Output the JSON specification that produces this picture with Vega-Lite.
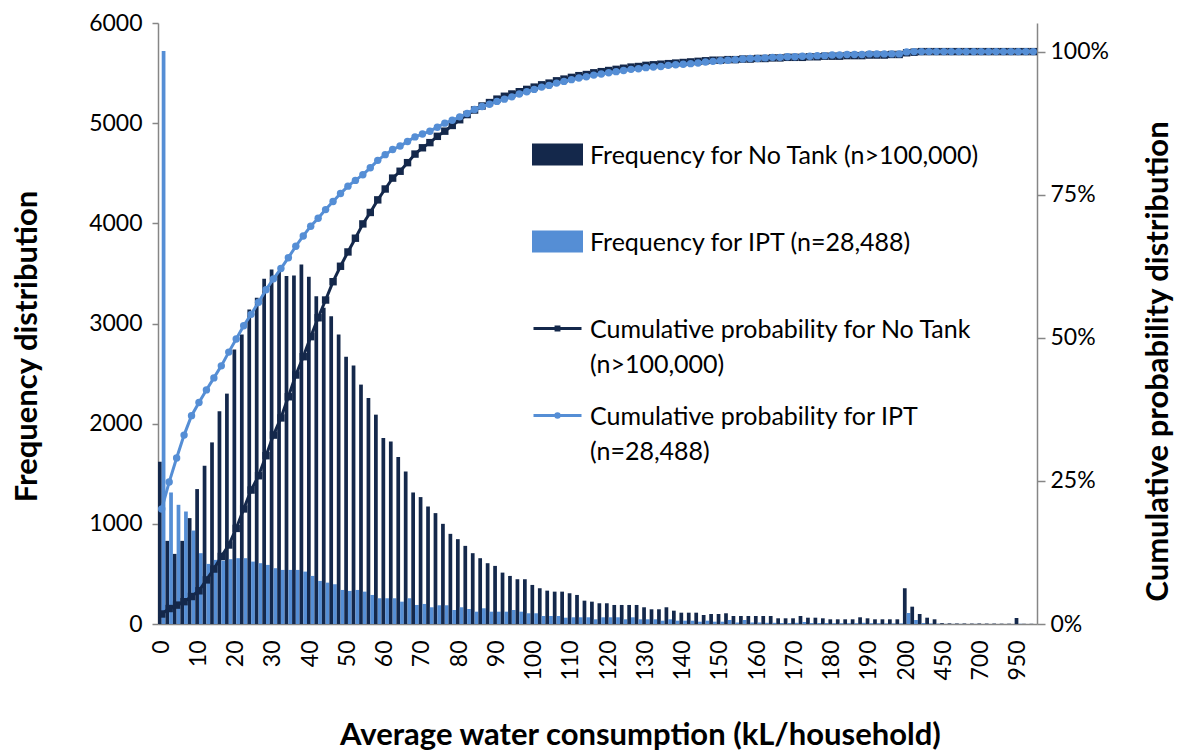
{
  "$schema": "https://vega.github.io/schema/vega-lite/v6.json",
  "width": 879,
  "height": 601,
  "autosize": {"type": "none"},
  "padding": {"left": 158, "top": 23, "right": 141, "bottom": 129},
  "background": "white",
  "config": {
    "view": {"stroke": null},
    "font": "Lato",
    "axis": {"grid": false, "domainColor": "#868686", "tickColor": "#868686", "labelColor": "#000000", "titleColor": "#000000", "labelFont": "Lato", "titleFont": "Lato", "labelFontSize": 23, "titleFontSize": 31, "titleFontWeight": "bold", "domainWidth": 1.5, "tickWidth": 1.5}
  },
  "data": {"values": [
    {"b":"0","nt":1620,"ipt":5720,"cnt":0.0175,"cipt":0.201},
    {"b":"2","nt":830,"ipt":1313,"cnt":0.027,"cipt":0.248},
    {"b":"4","nt":700,"ipt":1190,"cnt":0.033,"cipt":0.290},
    {"b":"6","nt":830,"ipt":1123,"cnt":0.039,"cipt":0.330},
    {"b":"8","nt":1057,"ipt":933,"cnt":0.048,"cipt":0.364},
    {"b":"10","nt":1347,"ipt":707,"cnt":0.058,"cipt":0.387},
    {"b":"12","nt":1580,"ipt":600,"cnt":0.077,"cipt":0.409},
    {"b":"14","nt":1813,"ipt":640,"cnt":0.096,"cipt":0.430},
    {"b":"16","nt":2123,"ipt":633,"cnt":0.118,"cipt":0.451},
    {"b":"18","nt":2300,"ipt":647,"cnt":0.138,"cipt":0.475},
    {"b":"20","nt":2740,"ipt":657,"cnt":0.167,"cipt":0.498},
    {"b":"22","nt":2890,"ipt":657,"cnt":0.201,"cipt":0.521},
    {"b":"24","nt":3140,"ipt":623,"cnt":0.234,"cipt":0.541},
    {"b":"26","nt":3257,"ipt":607,"cnt":0.259,"cipt":0.562},
    {"b":"28","nt":3447,"ipt":590,"cnt":0.294,"cipt":0.584},
    {"b":"30","nt":3540,"ipt":557,"cnt":0.330,"cipt":0.603},
    {"b":"32","nt":3513,"ipt":540,"cnt":0.360,"cipt":0.621},
    {"b":"34","nt":3473,"ipt":540,"cnt":0.397,"cipt":0.640},
    {"b":"36","nt":3480,"ipt":540,"cnt":0.435,"cipt":0.660},
    {"b":"38","nt":3590,"ipt":523,"cnt":0.467,"cipt":0.678},
    {"b":"40","nt":3467,"ipt":480,"cnt":0.502,"cipt":0.695},
    {"b":"42","nt":3273,"ipt":430,"cnt":0.535,"cipt":0.709},
    {"b":"44","nt":3157,"ipt":413,"cnt":0.566,"cipt":0.724},
    {"b":"46","nt":3073,"ipt":397,"cnt":0.598,"cipt":0.738},
    {"b":"48","nt":2890,"ipt":340,"cnt":0.625,"cipt":0.752},
    {"b":"50","nt":2667,"ipt":330,"cnt":0.650,"cipt":0.765},
    {"b":"52","nt":2580,"ipt":340,"cnt":0.674,"cipt":0.775},
    {"b":"54","nt":2390,"ipt":323,"cnt":0.699,"cipt":0.785},
    {"b":"56","nt":2257,"ipt":290,"cnt":0.719,"cipt":0.797},
    {"b":"58","nt":2090,"ipt":257,"cnt":0.741,"cipt":0.810},
    {"b":"60","nt":1857,"ipt":257,"cnt":0.760,"cipt":0.820},
    {"b":"62","nt":1823,"ipt":257,"cnt":0.779,"cipt":0.829},
    {"b":"64","nt":1667,"ipt":223,"cnt":0.791,"cipt":0.835},
    {"b":"66","nt":1523,"ipt":257,"cnt":0.806,"cipt":0.843},
    {"b":"68","nt":1313,"ipt":190,"cnt":0.821,"cipt":0.851},
    {"b":"70","nt":1267,"ipt":200,"cnt":0.832,"cipt":0.856},
    {"b":"72","nt":1173,"ipt":167,"cnt":0.841,"cipt":0.861},
    {"b":"74","nt":1107,"ipt":187,"cnt":0.852,"cipt":0.868},
    {"b":"76","nt":1000,"ipt":187,"cnt":0.861,"cipt":0.875},
    {"b":"78","nt":900,"ipt":140,"cnt":0.871,"cipt":0.880},
    {"b":"80","nt":847,"ipt":167,"cnt":0.881,"cipt":0.886},
    {"b":"82","nt":780,"ipt":150,"cnt":0.890,"cipt":0.892},
    {"b":"84","nt":707,"ipt":123,"cnt":0.898,"cipt":0.899},
    {"b":"86","nt":657,"ipt":157,"cnt":0.905,"cipt":0.904},
    {"b":"88","nt":607,"ipt":123,"cnt":0.911,"cipt":0.908},
    {"b":"90","nt":580,"ipt":123,"cnt":0.917,"cipt":0.913},
    {"b":"92","nt":513,"ipt":123,"cnt":0.922,"cipt":0.917},
    {"b":"94","nt":480,"ipt":140,"cnt":0.926,"cipt":0.921},
    {"b":"96","nt":447,"ipt":123,"cnt":0.930,"cipt":0.926},
    {"b":"98","nt":447,"ipt":107,"cnt":0.934,"cipt":0.930},
    {"b":"100","nt":390,"ipt":107,"cnt":0.938,"cipt":0.934},
    {"b":"102","nt":357,"ipt":80,"cnt":0.942,"cipt":0.938},
    {"b":"104","nt":333,"ipt":80,"cnt":0.945,"cipt":0.941},
    {"b":"106","nt":323,"ipt":80,"cnt":0.949,"cipt":0.945},
    {"b":"108","nt":323,"ipt":63,"cnt":0.952,"cipt":0.948},
    {"b":"110","nt":307,"ipt":67,"cnt":0.955,"cipt":0.951},
    {"b":"112","nt":290,"ipt":67,"cnt":0.958,"cipt":0.954},
    {"b":"114","nt":233,"ipt":67,"cnt":0.960,"cipt":0.956},
    {"b":"116","nt":223,"ipt":47,"cnt":0.963,"cipt":0.959},
    {"b":"118","nt":207,"ipt":67,"cnt":0.965,"cipt":0.961},
    {"b":"120","nt":207,"ipt":67,"cnt":0.967,"cipt":0.963},
    {"b":"122","nt":190,"ipt":67,"cnt":0.969,"cipt":0.965},
    {"b":"124","nt":190,"ipt":47,"cnt":0.971,"cipt":0.967},
    {"b":"126","nt":190,"ipt":67,"cnt":0.973,"cipt":0.969},
    {"b":"128","nt":190,"ipt":47,"cnt":0.974,"cipt":0.970},
    {"b":"130","nt":167,"ipt":47,"cnt":0.976,"cipt":0.972},
    {"b":"132","nt":147,"ipt":47,"cnt":0.977,"cipt":0.973},
    {"b":"134","nt":147,"ipt":33,"cnt":0.978,"cipt":0.974},
    {"b":"136","nt":167,"ipt":47,"cnt":0.979,"cipt":0.976},
    {"b":"138","nt":133,"ipt":33,"cnt":0.980,"cipt":0.977},
    {"b":"140","nt":113,"ipt":33,"cnt":0.981,"cipt":0.978},
    {"b":"142","nt":113,"ipt":33,"cnt":0.982,"cipt":0.979},
    {"b":"144","nt":113,"ipt":23,"cnt":0.983,"cipt":0.980},
    {"b":"146","nt":90,"ipt":33,"cnt":0.984,"cipt":0.982},
    {"b":"148","nt":100,"ipt":23,"cnt":0.985,"cipt":0.983},
    {"b":"150","nt":100,"ipt":23,"cnt":0.985,"cipt":0.984},
    {"b":"152","nt":107,"ipt":40,"cnt":0.986,"cipt":0.985},
    {"b":"154","nt":80,"ipt":15,"cnt":0.986,"cipt":0.986},
    {"b":"156","nt":80,"ipt":40,"cnt":0.987,"cipt":0.987},
    {"b":"158","nt":80,"ipt":15,"cnt":0.987,"cipt":0.988},
    {"b":"160","nt":80,"ipt":15,"cnt":0.988,"cipt":0.988},
    {"b":"162","nt":80,"ipt":12,"cnt":0.988,"cipt":0.989},
    {"b":"164","nt":80,"ipt":12,"cnt":0.989,"cipt":0.990},
    {"b":"166","nt":57,"ipt":10,"cnt":0.989,"cipt":0.990},
    {"b":"168","nt":57,"ipt":10,"cnt":0.990,"cipt":0.991},
    {"b":"170","nt":57,"ipt":12,"cnt":0.990,"cipt":0.991},
    {"b":"172","nt":80,"ipt":20,"cnt":0.990,"cipt":0.992},
    {"b":"174","nt":63,"ipt":10,"cnt":0.991,"cipt":0.992},
    {"b":"176","nt":63,"ipt":10,"cnt":0.991,"cipt":0.993},
    {"b":"178","nt":57,"ipt":10,"cnt":0.992,"cipt":0.993},
    {"b":"180","nt":47,"ipt":8,"cnt":0.992,"cipt":0.994},
    {"b":"182","nt":47,"ipt":8,"cnt":0.992,"cipt":0.994},
    {"b":"184","nt":47,"ipt":8,"cnt":0.993,"cipt":0.995},
    {"b":"186","nt":47,"ipt":8,"cnt":0.993,"cipt":0.995},
    {"b":"188","nt":67,"ipt":12,"cnt":0.993,"cipt":0.995},
    {"b":"190","nt":57,"ipt":8,"cnt":0.994,"cipt":0.996},
    {"b":"192","nt":47,"ipt":8,"cnt":0.994,"cipt":0.996},
    {"b":"194","nt":47,"ipt":6,"cnt":0.994,"cipt":0.996},
    {"b":"196","nt":47,"ipt":6,"cnt":0.995,"cipt":0.996},
    {"b":"198","nt":47,"ipt":6,"cnt":0.995,"cipt":0.996},
    {"b":"200","nt":357,"ipt":110,"cnt":0.998,"cipt":0.9995},
    {"b":"250","nt":173,"ipt":40,"cnt":0.999,"cipt":1.0},
    {"b":"300","nt":100,"ipt":10,"cnt":1.0,"cipt":1.0},
    {"b":"350","nt":63,"ipt":5,"cnt":1.0,"cipt":1.0},
    {"b":"400","nt":47,"ipt":4,"cnt":1.0,"cipt":1.0},
    {"b":"450","nt":8,"ipt":1,"cnt":1.0,"cipt":1.0},
    {"b":"500","nt":6,"ipt":1,"cnt":1.0,"cipt":1.0},
    {"b":"550","nt":5,"ipt":1,"cnt":1.0,"cipt":1.0},
    {"b":"600","nt":5,"ipt":0,"cnt":1.0,"cipt":1.0},
    {"b":"650","nt":4,"ipt":1,"cnt":1.0,"cipt":1.0},
    {"b":"700","nt":5,"ipt":0,"cnt":1.0,"cipt":1.0},
    {"b":"750","nt":4,"ipt":0,"cnt":1.0,"cipt":1.0},
    {"b":"800","nt":4,"ipt":0,"cnt":1.0,"cipt":1.0},
    {"b":"850","nt":3,"ipt":0,"cnt":1.0,"cipt":1.0},
    {"b":"900","nt":3,"ipt":0,"cnt":1.0,"cipt":1.0},
    {"b":"950","nt":60,"ipt":2,"cnt":1.0,"cipt":1.0},
    {"b":"1000","nt":2,"ipt":0,"cnt":1.0,"cipt":1.0},
    {"b":"1050","nt":2,"ipt":0,"cnt":1.0,"cipt":1.0}
  ]},
  "encoding": {
    "x": {
      "field": "b", "type": "ordinal", "sort": null,
      "scale": {"paddingInner": 0, "paddingOuter": 0},
      "axis": {
        "values": ["0","10","20","30","40","50","60","70","80","90","100","110","120","130","140","150","160","170","180","190","200","450","700","950"],
        "labelAngle": -90, "labelAlign": "right", "labelBaseline": "middle",
        "ticks": false, "labelPadding": 16,
        "title": "Average water consumption (kL/household)",
        "titlePadding": 40, "titleX": 482, "titleAnchor": "middle"
      }
    }
  },
  "layer": [
    {
      "transform": [{"fold": ["nt", "ipt"], "as": ["s", "v"]}],
      "mark": {"type": "bar"},
      "encoding": {
        "xOffset": {"field": "s", "type": "nominal", "scale": {"domain": ["nt", "ipt"], "paddingInner": 0, "paddingOuter": 0}},
        "y": {
          "field": "v", "type": "quantitative",
          "scale": {"domain": [0, 6000], "nice": false},
          "axis": {"values": [0,1000,2000,3000,4000,5000,6000], "format": "d", "tickSize": 6, "labelPadding": 10, "title": "Frequency distribution", "titlePadding": 45, "titleY": 323, "titleAnchor": "middle"}
        },
        "color": {
          "field": "s", "type": "nominal",
          "scale": {"domain": ["nt", "ipt", "cnt", "cipt"], "range": ["#14284B", "#558ED5", "#14284B", "#558ED5"]},
          "legend": {
            "orient": "none", "legendX": 374, "legendY": 106, "direction": "vertical", "title": null,
            "labelFont": "Lato", "labelFontSize": 25, "labelColor": "#000000", "labelLimit": 600,
            "labelOffset": 7, "rowPadding": 12, "symbolSize": 2304, "labelBaseline": "alphabetic",
            "labelExpr": "datum.value == 'nt' ? ['Frequency for No Tank (n>100,000)', ''] : datum.value == 'ipt' ? ['Frequency for IPT (n=28,488)', ''] : datum.value == 'cnt' ? ['Cumulative probability for No Tank', '(n>100,000)'] : ['Cumulative probability for IPT', '(n=28,488)']",
            "encode": {
              "symbols": {"update": {
                "shape": {"signal": "datum.value == 'nt' || datum.value == 'ipt' ? 'M-1,-0.4H1V0.4H-1Z' : datum.value == 'cnt' ? 'M-1,0H1M-0.06,-0.06H0.06V0.06H-0.06Z' : 'M-1,0H1M0.07,0A0.07,0.07,0,1,1,-0.07,0A0.07,0.07,0,1,1,0.07,0Z'"},
                "fill": {"signal": "datum.value == 'nt' || datum.value == 'cnt' ? '#14284B' : '#558ED5'"},
                "stroke": {"signal": "datum.value == 'nt' || datum.value == 'ipt' ? 'transparent' : datum.value == 'cnt' ? '#14284B' : '#558ED5'"},
                "strokeWidth": {"value": 3},
                "opacity": {"value": 1},
                "size": {"value": 2304}
              }},
              "labels": {"update": {"dy": {"value": 9}, "lineHeight": {"value": 35}}}
            }
          }
        }
      }
    },
    {
      "layer": [
        {
          "mark": {"type": "line", "strokeWidth": 3, "point": {"shape": "square", "size": 55, "filled": true}},
          "encoding": {
            "y": {
              "field": "cnt", "type": "quantitative",
              "scale": {"domain": [0, 1.05], "nice": false},
              "axis": {"orient": "right", "values": [0, 0.25, 0.5, 0.75, 1], "format": ".0%", "tickSize": 8, "labelPadding": 5, "title": "Cumulative probability distribution", "titleAngle": -90, "titlePadding": 66, "titleY": 338, "titleAnchor": "middle"}
            },
            "color": {"datum": "cnt"}
          }
        },
        {
          "mark": {"type": "line", "strokeWidth": 3, "point": {"shape": "circle", "size": 55, "filled": true}},
          "encoding": {
            "y": {"field": "cipt", "type": "quantitative", "title": "Cumulative probability distribution"},
            "color": {"datum": "cipt"}
          }
        }
      ]
    }
  ],
  "resolve": {"scale": {"y": "independent"}}
}
